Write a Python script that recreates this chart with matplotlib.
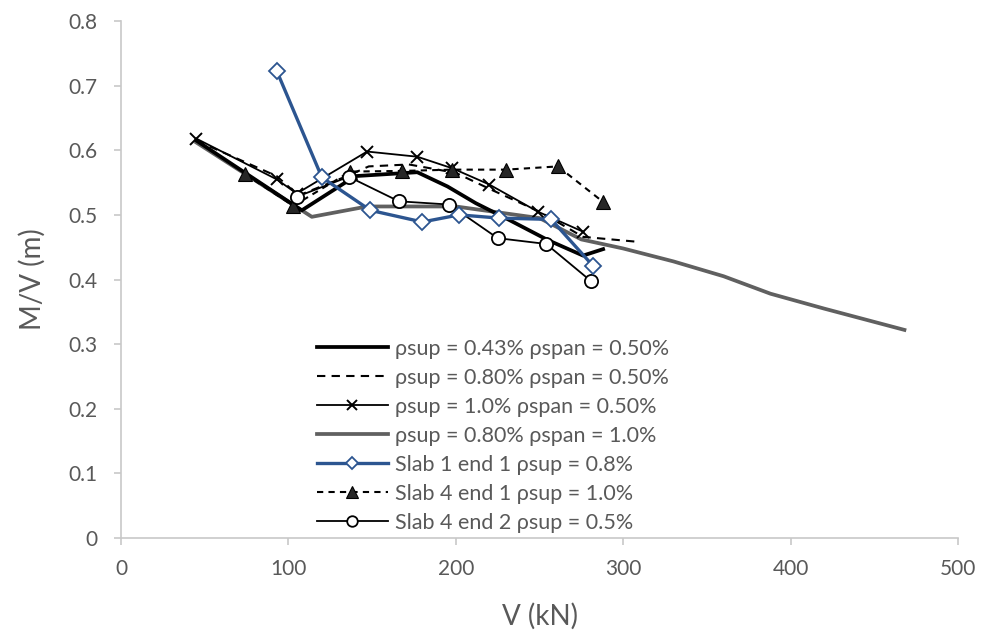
import matplotlib
matplotlib.use("Agg")
import matplotlib.pyplot as plt

plt.rcParams['font.family'] = ['Lato', 'DejaVu Sans']

# Series data: shear force V (kN) and M/V ratio (m)
v_043 = [45, 108, 140, 177, 195, 212, 232, 255, 276, 288]
mv_043 = [0.615, 0.507, 0.560, 0.566, 0.544, 0.518, 0.492, 0.461, 0.437, 0.447]

v_080 = [45, 93, 106, 135, 148, 172, 200, 222, 250, 276, 310]
mv_080 = [0.615, 0.560, 0.530, 0.560, 0.575, 0.578, 0.565, 0.538, 0.505, 0.466, 0.458]

v_100 = [45, 93, 105, 147, 177, 198, 220, 249, 276]
mv_100 = [0.618, 0.555, 0.533, 0.598, 0.590, 0.572, 0.547, 0.505, 0.474]

v_080b = [45, 114, 147, 200, 250, 275, 300, 330, 360, 388, 420, 468]
mv_080b = [0.612, 0.497, 0.513, 0.513, 0.495, 0.462, 0.448, 0.428, 0.405, 0.378, 0.355, 0.322]

v_s1e1 = [93, 120, 149, 180, 202, 226, 257, 282]
mv_s1e1 = [0.723, 0.558, 0.507, 0.489, 0.500, 0.495, 0.493, 0.421]

v_s4e1 = [74, 103, 137, 168, 198, 230, 261, 288]
mv_s4e1 = [0.563, 0.514, 0.567, 0.568, 0.570, 0.570, 0.575, 0.520]

v_s4e2 = [105, 136, 166, 196, 225, 254, 281]
mv_s4e2 = [0.528, 0.559, 0.521, 0.516, 0.464, 0.455, 0.397]

labels = [
    "ρsup = 0.43% ρspan = 0.50%",
    "ρsup = 0.80% ρspan = 0.50%",
    "ρsup = 1.0% ρspan = 0.50%",
    "ρsup = 0.80% ρspan = 1.0%",
    "Slab 1 end 1 ρsup = 0.8%",
    "Slab 4 end 1 ρsup = 1.0%",
    "Slab 4 end 2 ρsup = 0.5%",
]

x_ticks = [0, 100, 200, 300, 400, 500]
y_ticks = [0, 0.1, 0.2, 0.3, 0.4, 0.5, 0.6, 0.7, 0.8]

fig = plt.figure(figsize=(9.81, 6.37), dpi=100)
ax = fig.add_axes([121 / 981, 1 - 538 / 637, (958 - 121) / 981, (538 - 21) / 637])

blue = "#2c5590"
grey = "#606060"
text_col = "#595959"

ax.plot(v_080b, mv_080b, color=grey, lw=2.7, label=labels[3], zorder=2)
ax.plot(v_043, mv_043, color="black", lw=2.7, label=labels[0], zorder=3)
ax.plot(v_080, mv_080, color="black", lw=1.5, ls=(0, (4, 3)), label=labels[1], zorder=3)
ax.plot(v_100, mv_100, color="black", lw=1.3, marker="x", ms=9, mew=1.4,
        label=labels[2], zorder=4)
ax.plot(v_s1e1, mv_s1e1, color=blue, lw=2.4, marker="D", ms=8, mfc="white",
        mec=blue, mew=1.3, label=labels[4], zorder=5)
ax.plot(v_s4e1, mv_s4e1, color="black", lw=1.5, ls=(0, (3, 2.5)), marker="^", ms=10,
        mfc="#262626", mec="black", mew=0.8, label=labels[5], zorder=4)
ax.plot(v_s4e2, mv_s4e2, color="black", lw=1.3, marker="o", ms=9.5, mfc="white",
        mec="black", mew=1.3, label=labels[6], zorder=4)

ax.set_xlim(0, 500)
ax.set_ylim(0, 0.8)
ax.set_xticks(x_ticks)
ax.set_xticklabels([str(t) for t in x_ticks])
ax.set_yticks(y_ticks)
ax.set_yticklabels(["0"] + [f"{t:.1f}" for t in y_ticks[1:]])

for side in ("top", "right"):
    ax.spines[side].set_visible(False)
for side in ("left", "bottom"):
    ax.spines[side].set_color("#c8c8c8")
    ax.spines[side].set_linewidth(1.2)

ax.tick_params(axis="both", colors="#c8c8c8", labelcolor=text_col,
               labelsize=15, length=5, width=1.2, direction="out")
ax.tick_params(axis="x", pad=10)
ax.tick_params(axis="y", pad=12)

ax.set_xlabel("V (kN)", fontsize=20, color=text_col, labelpad=17)
ax.set_ylabel("M/V (m)", fontsize=20, color=text_col, labelpad=16)

order = [1, 2, 3, 0, 4, 5, 6]
handles, labs = ax.get_legend_handles_labels()
handles = [handles[i] for i in order]
labs = [labs[i] for i in order]
leg = fig.legend(handles, labs, loc="upper left",
                 bbox_to_anchor=(308 / 981, 1 - 330 / 637),
                 frameon=False, fontsize=15.5, handlelength=3.3,
                 handletextpad=0.35, labelspacing=0.42, borderaxespad=0,
                 markerscale=0.8)
for t in leg.get_texts():
    t.set_color(text_col)

fig.savefig("out.png", dpi=100)
